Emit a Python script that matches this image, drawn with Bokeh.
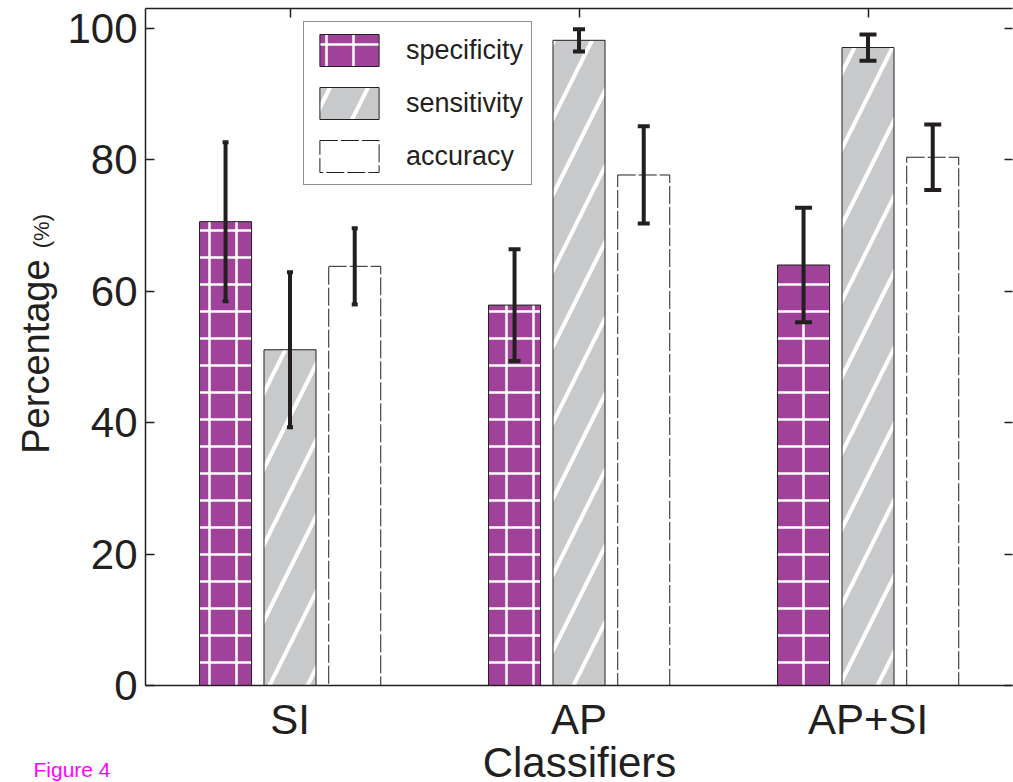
import math
from bokeh.plotting import figure
from bokeh.layouts import column, row
from bokeh.models import (ColumnDataSource, Range1d, LinearAxis, FixedTicker, Whisker,
                          TeeHead, Legend, LegendItem, Label)
from bokeh.embed import file_html
from bokeh.resources import INLINE

# ---------------- data ----------------
classifiers = ["SI", "AP", "AP+SI"]
metrics = ["specificity", "sensitivity", "accuracy"]
specificity = [70.6, 57.9, 64.0]
specificity_err = [12.1, 8.5, 8.7]
sensitivity = [51.1, 98.2, 97.1]
sensitivity_err = [11.8, 1.7, 2.0]
accuracy = [63.8, 77.7, 80.4]
accuracy_err = [5.8, 7.4, 5.0]
y_ticks = [0, 20, 40, 60, 80, 100]

# ---------------- style ----------------
FONT = "Liberation Sans"
INK = "#231F20"
PURPLE = "#A1429A"
GRAY = "#C8C9CB"
group_pos = [1, 2, 3]
offsets = [-0.223, 0.0, 0.224]
bar_w = 0.18
cap_sizes = [6, 12, 17]   # error-bar cap width per classifier group (px)

W, H_MAIN, LEFT_W, H_BOTTOM = 1013, 745, 60, 37

p = figure(width=W - LEFT_W, height=H_MAIN, x_range=Range1d(0.5, 3.5), y_range=Range1d(0, 103.04),
           output_backend="svg", toolbar_location=None,
           min_border_left=145 - LEFT_W, min_border_top=8, min_border_bottom=60, min_border_right=1)
p.outline_line_color = None
p.grid.visible = False
p.background_fill_color = "white"
p.border_fill_color = "white"

series = [
    ("specificity", specificity, specificity_err,
     dict(fill_color=PURPLE, hatch_pattern="+", hatch_color="white", hatch_weight=2.5,
          hatch_scale=27, line_color=INK, line_width=1)),
    ("sensitivity", sensitivity, sensitivity_err,
     dict(fill_color=GRAY, hatch_pattern="/", hatch_color="white", hatch_weight=4,
          hatch_scale=76, line_color=INK, line_width=1)),
    ("accuracy", accuracy, accuracy_err,
     dict(fill_color="white", line_color=INK, line_width=1, line_dash="18 3")),
]

items = []
for k, (name, vals, errs, style) in enumerate(series):
    xs = [g + offsets[k] for g in group_pos]
    src = ColumnDataSource(dict(x=xs, top=vals))
    r = p.vbar(x="x", top="top", width=bar_w, bottom=0, source=src, **style)
    items.append(LegendItem(label=name, renderers=[r]))

# error bars, one whisker per group so the caps can differ in width
for gi, g in enumerate(group_pos):
    xs, up, lo = [], [], []
    for k, (name, vals, errs, style) in enumerate(series):
        xs.append(g + offsets[k])
        up.append(vals[gi] + errs[gi])
        lo.append(vals[gi] - errs[gi])
    esrc = ColumnDataSource(dict(x=xs, upper=up, lower=lo))
    w = Whisker(base="x", upper="upper", lower="lower", source=esrc, level="overlay",
                line_color=INK, line_width=4,
                upper_head=TeeHead(size=cap_sizes[gi], line_color=INK, line_width=4),
                lower_head=TeeHead(size=cap_sizes[gi], line_color=INK, line_width=4))
    p.add_layout(w)

# ---------------- axes ----------------
xa = p.xaxis[0]
xa.ticker = FixedTicker(ticks=group_pos)
xa.major_label_overrides = {g: c for g, c in zip(group_pos, classifiers)}
xa.major_label_text_font = FONT
xa.major_label_text_font_size = "42px"
xa.major_label_text_color = INK
xa.major_label_standoff = 10
xa.major_tick_in = 0
xa.major_tick_out = 0
xa.minor_tick_line_color = None
xa.axis_line_color = INK
xa.axis_line_width = 1.5

ya = p.yaxis[0]
ya.ticker = FixedTicker(ticks=y_ticks)
ya.major_label_text_font = FONT
ya.major_label_text_font_size = "42px"
ya.major_label_text_color = INK
ya.major_label_standoff = 8
ya.major_tick_in = 9
ya.major_tick_out = 0
ya.major_tick_line_color = INK
ya.major_tick_line_width = 1.5
ya.minor_tick_line_color = None
ya.axis_line_color = INK
ya.axis_line_width = 1.5

top_axis = LinearAxis(ticker=FixedTicker(ticks=group_pos), major_tick_in=9, major_tick_out=0,
                      major_tick_line_color=INK, major_tick_line_width=1.5,
                      minor_tick_line_color=None, axis_line_color=INK, axis_line_width=1.5,
                      major_label_text_font_size="1px", major_label_text_alpha=0,
                      major_label_standoff=0)
p.add_layout(top_axis, "above")

right_axis = LinearAxis(ticker=FixedTicker(ticks=y_ticks), major_tick_in=8, major_tick_out=0,
                        major_tick_line_color=INK, major_tick_line_width=1.5,
                        minor_tick_line_color=None, axis_line_color=None,
                        major_label_text_font_size="1px", major_label_text_alpha=0,
                        major_label_standoff=0)
p.add_layout(right_axis, "right")

# ---------------- legend ----------------
legend = Legend(items=items, location=(158, 500), orientation="vertical",
                border_line_color=INK, border_line_width=1, background_fill_alpha=1,
                label_text_font=FONT, label_text_font_size="27px", label_text_color=INK,
                glyph_width=74, glyph_height=40, label_height=40, label_standoff=20,
                padding=8, spacing=13, margin=0)
p.add_layout(legend)


def strip(width, height):
    s = figure(width=width, height=height, x_range=Range1d(0, width), y_range=Range1d(0, height),
               x_axis_type=None, y_axis_type=None, output_backend="svg", toolbar_location=None,
               min_border=0)
    s.outline_line_color = None
    s.grid.visible = False
    s.background_fill_color = "white"
    s.border_fill_color = "white"
    return s


# y-axis title: "Percentage" with a smaller "(%)"  (strip coords: y up from bottom)
left = strip(LEFT_W, H_MAIN)
left.add_layout(Label(x=35, y=362, text="Percentage", angle=math.pi / 2,
                      text_align="center", text_baseline="middle",
                      text_font=FONT, text_font_size="38px", text_color=INK))
left.add_layout(Label(x=41, y=500, text="(%)", angle=math.pi / 2,
                      text_align="center", text_baseline="middle",
                      text_font=FONT, text_font_size="22px", text_color=INK))

# x-axis title and figure caption
bottom = strip(W, H_BOTTOM)
bottom.add_layout(Label(x=579, y=20, text="Classifiers", text_align="center",
                        text_baseline="middle", text_font=FONT, text_font_size="42px",
                        text_color=INK))
bottom.add_layout(Label(x=33, y=13, text="Figure 4", text_align="left",
                        text_baseline="middle", text_font=FONT, text_font_size="21px",
                        text_color="#FF00FF"))

layout = column(row(left, p, spacing=0), bottom, spacing=0)
open("out.html", "w").write(file_html(layout, INLINE))
